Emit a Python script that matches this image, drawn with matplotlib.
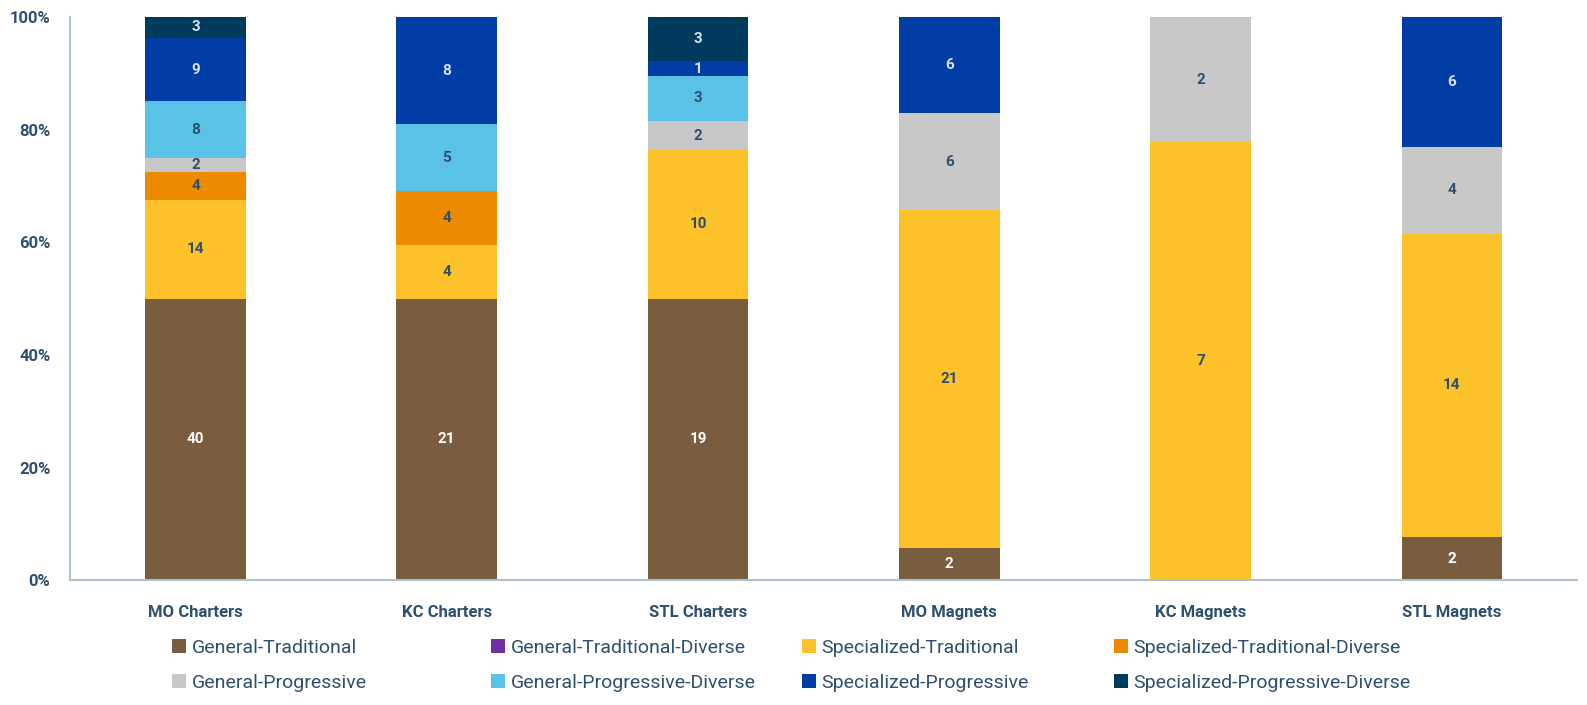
import numpy as np
import matplotlib
matplotlib.use("Agg")
import matplotlib.pyplot as plt

plt.rcParams['font.family'] = ['Roboto', 'DejaVu Sans']

categories = ["MO Charters", "KC Charters", "STL Charters", "MO Magnets", "KC Magnets", "STL Magnets"]
series_names = ["General-Traditional", "General-Traditional-Diverse", "Specialized-Traditional",
                "Specialized-Traditional-Diverse", "General-Progressive", "General-Progressive-Diverse",
                "Specialized-Progressive", "Specialized-Progressive-Diverse"]

general_traditional = [40, 21, 19, 2, 0, 2]
general_traditional_diverse = [0, 0, 0, 0, 0, 0]
specialized_traditional = [14, 4, 10, 21, 7, 14]
specialized_traditional_diverse = [4, 4, 0, 0, 0, 0]
general_progressive = [2, 0, 2, 6, 2, 4]
general_progressive_diverse = [8, 5, 3, 0, 0, 0]
specialized_progressive = [9, 8, 1, 6, 0, 6]
specialized_progressive_diverse = [3, 0, 3, 0, 0, 0]

colors = ["#7a5c3e", "#7030a0", "#fdc12a", "#ed8b00", "#c8c8c8", "#5bc2e7", "#003da5", "#003a5d"]
label_colors = ["white", "white", "#2f4f6f", "#2f4f6f", "#2f4f6f", "#2f4f6f", "#d8e0f0", "#d8e0f0"]
text_color = "#2f4f6f"

series = [general_traditional, general_traditional_diverse, specialized_traditional,
          specialized_traditional_diverse, general_progressive, general_progressive_diverse,
          specialized_progressive, specialized_progressive_diverse]
data = np.array(series, dtype=float)
totals = data.sum(axis=0)
pct = data / totals * 100

fig = plt.figure(figsize=(15.87, 7.05), dpi=100)
ax = fig.add_axes([0.044, 0.177, 0.95, 0.799])

x = np.arange(len(categories))
bottom = np.zeros(len(categories))
handles = []
for i, name in enumerate(series_names):
    bars = ax.bar(x, pct[i], 0.4, bottom=bottom, color=colors[i], label=name, zorder=2)
    handles.append(bars)
    for j, b in enumerate(bars):
        if data[i][j] > 0:
            ax.text(b.get_x() + b.get_width() / 2, bottom[j] + pct[i][j] / 2, f"{int(data[i][j])}",
                    ha='center', va='center', fontsize=11, fontweight='bold', color=label_colors[i])
    bottom += pct[i]

ax.set_xlim(-0.5, len(categories) - 0.5)
ax.set_ylim(0, 100)
ax.set_yticks([0, 20, 40, 60, 80, 100])
ax.set_yticklabels([f"{v}%" for v in [0, 20, 40, 60, 80, 100]])
ax.set_xticks(x)
ax.set_xticklabels(categories)
ax.tick_params(axis='both', length=0, labelsize=12, colors=text_color)
ax.tick_params(axis='x', pad=18)
ax.tick_params(axis='y', pad=14)
for lab in ax.get_xticklabels() + ax.get_yticklabels():
    lab.set_fontweight('bold')
for s in ['top', 'right']:
    ax.spines[s].set_visible(False)
for s in ['left', 'bottom']:
    ax.spines[s].set_color("#b0c0cc")
    ax.spines[s].set_linewidth(1.5)

# legend: 4 columns of 2, placed one by one so the column pitch matches
col_x = [172, 491, 802, 1114]
for c in range(4):
    fig.legend(handles=[handles[c], handles[c + 4]], labels=[series_names[c], series_names[c + 4]],
               loc='upper left', bbox_to_anchor=(col_x[c] / 1587, 1 - 639 / 705),
               frameon=False, fontsize=14, handlelength=0.7, handleheight=0.7,
               handletextpad=0.3, labelspacing=0.85, borderpad=0, borderaxespad=0,
               labelcolor=text_color)

fig.savefig("out.png", dpi=100)
